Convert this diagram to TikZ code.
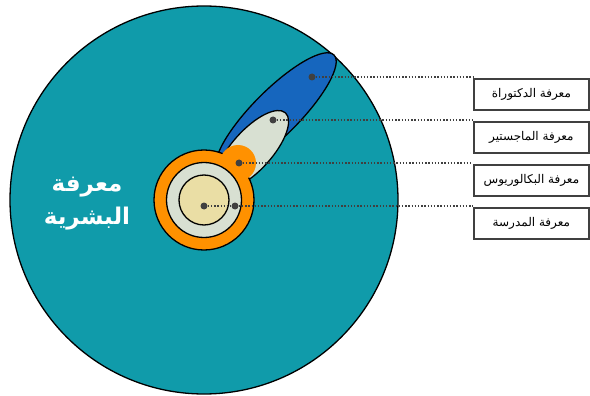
\documentclass[tikz,border=0pt]{standalone}
\usepackage{fontspec}
\usepackage{tikz}
\usetikzlibrary{positioning, calc}
\usepackage{xcolor}
\newfontfamily\arabicfont[Script=Arabic]{DejaVu Sans}
\TeXXeTstate=1
\definecolor{humanity}{RGB}{16,155,170}
\definecolor{phdblue}{RGB}{22,102,190}
\definecolor{mastergray}{RGB}{216,224,210}
\definecolor{bachorange}{RGB}{255,145,0}
\definecolor{schoolbeige}{RGB}{234,222,165}
\definecolor{dotgray}{RGB}{64,64,64}

\begin{document}
\begin{tikzpicture}[x=1pt, y=-1pt,
  outline/.style={draw=black, line width=1.3pt},
  spot/.style={circle, fill=dotgray, inner sep=0pt, minimum size=7pt},
  leader/.style={dotgray, line width=1.5pt, dash pattern=on 1.5pt off 1.7pt},
  levelbox/.style={draw=dotgray, line width=1.8pt, fill=white, minimum width=115pt,
    minimum height=31pt, anchor=north west, font=\arabicfont\fontsize{12}{14}\selectfont}]
  \useasboundingbox (0,0) rectangle (590,396);
  \fill[white] (0,0) rectangle (590,396);
  % human knowledge
  \draw[outline, fill=humanity] (204,200) circle [radius=194];
  \node[text=white, font=\arabicfont\bfseries\fontsize{23}{33}\selectfont, align=center]
    (human) at (87,204) {\beginR معرفة\endR\\\beginR البشرية\endR};
  % phd and masters
  \draw[outline, fill=phdblue, rotate around={45:(276,113)}] (276,113) ellipse [x radius=82, y radius=23];
  \draw[outline, fill=mastergray, rotate around={48:(252,150)}] (252,150) ellipse [x radius=50, y radius=20];
  % bachelor and school
  \draw[outline, fill=bachorange] (204,200) circle [radius=50];
  \fill[bachorange] (238,163) circle [radius=18];
  \draw[outline, fill=mastergray] (204,200) circle [radius=37.5];
  \draw[outline, fill=schoolbeige] (204,200) circle [radius=25];
  % dots
  \node[spot] (dphd) at (312,77) {};
  \node[spot] (dmaster) at (273,120) {};
  \node[spot] (dbach) at (239,163) {};
  \node[spot] (dschool) at (204,206) {};
  \node[spot] (dring) at (235,206) {};
  % labels
  \node[levelbox] (bphd) at (473,78) {\beginR معرفة الدكتوراة\endR};
  \node[levelbox] (bmaster) at (473,121) {\beginR معرفة الماجستير\endR};
  \node[levelbox] (bbach) at (473,164) {\beginR معرفة البكالوريوس\endR};
  \node[levelbox] (bschool) at (473,207) {\beginR معرفة المدرسة\endR};
  % leaders
  \draw[leader] (dphd.east) -- (dphd -| bphd.west);
  \draw[leader] (dmaster.east) -- (dmaster -| bmaster.west);
  \draw[leader] (dbach.east) -- (dbach -| bbach.west);
  \draw[leader] (dschool.east) -- (dring.west);
  \draw[leader] (dring.east) -- (dring -| bschool.west);
\end{tikzpicture}
\end{document}
